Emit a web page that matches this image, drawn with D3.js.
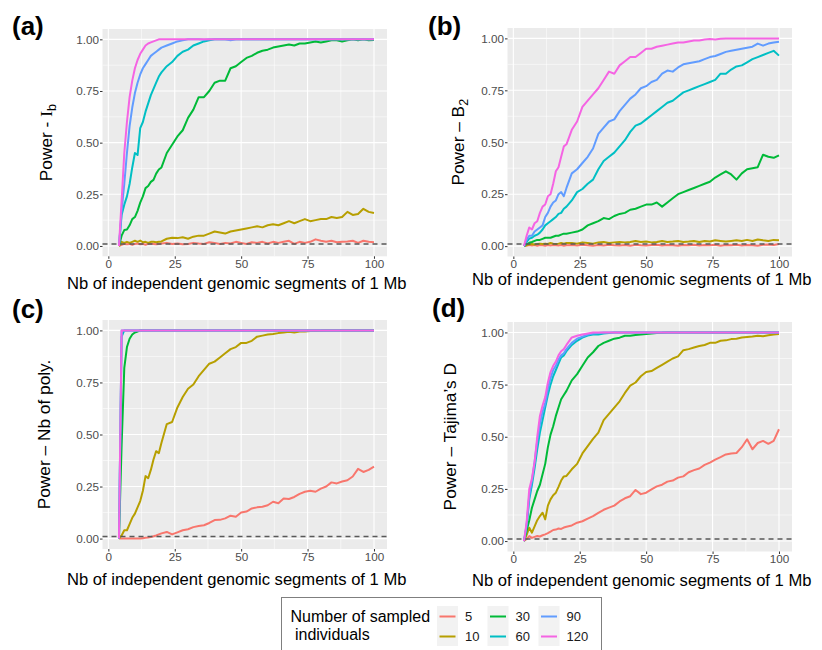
<!DOCTYPE html>
<html>
<head>
<meta charset="utf-8">
<script src="https://cdn.jsdelivr.net/npm/d3@7"></script>
<style>
  html, body { margin: 0; padding: 0; background: #ffffff; }
  svg { display: block; }
  text { font-family: "Liberation Sans", Arial, Helvetica, sans-serif; }
</style>
</head>
<body>
<div id="chart"></div>
<script>
// ---------------- DATA ----------------
const xSegments = [4,5,6,7,8,9,10,11,12,13,14,15,16,17,18,19,20,
  22,24,26,28,30,32,34,36,38,40,
  42,44,46,48,50,52,54,56,58,60,
  62,64,66,68,70,72,74,76,78,80,
  82,84,86,88,90,92,94,96,98,100];

const sampleSizes = ["5","10","30","60","90","120"];
const seriesColors = ["#F8766D","#B79F00","#00BA38","#00BFC4","#619CFF","#F564E3"];
const xTicks = [0,25,50,75,100];
const xMinorTicks = [12.5,37.5,62.5,87.5];
const yTicks = [0,0.25,0.5,0.75,1];
const yMinorTicks = [0.125,0.375,0.625,0.875];
const yTickLabels = ["0.00","0.25","0.50","0.75","1.00"];
const thresholdValue = 0.01;
const panelTags = ["(a)","(b)","(c)","(d)"];
const xTitle = "Nb of independent genomic segments of 1 Mb";
const legendTitle = ["Number of sampled", " individuals"];

// (a) Power - Ib
const ib5 = [0,0.005,0.01,0.008,0.01,0.005,0.01,0.012,0.008,0.01,0.006,0.01,0.012,0.01,0.008,0.01,0.012,
  0.015,0.01,0.012,0.008,0.01,0.015,0.012,0.01,0.018,0.015,
  0.01,0.015,0.012,0.02,0.015,0.01,0.018,0.015,0.02,0.012,
  0.02,0.015,0.02,0.025,0.01,0.02,0.015,0.02,0.032,0.025,
  0.02,0.025,0.018,0.02,0.022,0.025,0.015,0.025,0.02,0.018];
const ib10 = [0,0.02,0.015,0.02,0.015,0.02,0.025,0.02,0.026,0.018,0.02,0.015,0.02,0.02,0.018,0.02,0.022,
  0.035,0.04,0.038,0.042,0.035,0.045,0.05,0.05,0.06,0.07,
  0.065,0.06,0.07,0.075,0.08,0.085,0.09,0.095,0.09,0.1,
  0.105,0.1,0.11,0.12,0.11,0.12,0.13,0.12,0.125,0.13,
  0.13,0.14,0.135,0.14,0.165,0.15,0.155,0.18,0.165,0.16];
const ib30 = [0,0.05,0.077,0.08,0.1,0.13,0.14,0.17,0.21,0.24,0.28,0.29,0.31,0.32,0.35,0.37,0.38,
  0.45,0.49,0.53,0.56,0.62,0.66,0.72,0.72,0.75,0.79,
  0.8,0.8,0.86,0.87,0.89,0.91,0.92,0.935,0.945,0.95,
  0.96,0.965,0.97,0.975,0.97,0.98,0.98,0.985,0.99,0.985,
  0.99,0.995,0.995,0.99,0.995,1,0.995,1,0.995,0.997];
const ib60 = [0,0.15,0.2,0.24,0.3,0.38,0.45,0.44,0.57,0.6,0.65,0.69,0.73,0.76,0.79,0.82,0.84,
  0.87,0.89,0.92,0.94,0.95,0.97,0.98,0.99,0.995,1,
  1,1,1,1,1,1,1,1,1,1,
  1,1,1,1,1,1,1,1,1,1,
  1,1,1,1,1,1,1,1,1,1];
const ib90 = [0,0.17,0.3,0.45,0.58,0.67,0.74,0.79,0.83,0.86,0.88,0.9,0.92,0.93,0.94,0.95,0.96,
  0.97,0.98,0.99,0.995,1,1,1,0.998,1,1,
  1,1,0.995,1,1,1,1,1,1,1,
  1,1,1,1,1,1,1,1,1,1,
  1,1,1,1,1,1,1,1,1,1];
const ib120 = [0,0.22,0.45,0.6,0.72,0.8,0.86,0.9,0.93,0.95,0.97,0.98,0.985,0.99,0.995,1,1,
  1,1,1,1,1,1,1,1,1,1,
  1,1,1,1,1,1,1,1,1,1,
  1,1,1,1,1,1,1,1,1,1,
  1,1,1,1,1,1,1,1,1,1];

// (b) Power - B2
const b2_5 = [0,0.002,0.005,0.003,0.005,0.002,0.005,0.004,0.002,0.005,0.003,0.005,0.004,0.003,0.005,0.002,0.004,
  0.005,0.003,0.006,0.004,0.002,0.005,0.003,0.006,0.004,0.003,
  0.005,0.002,0.006,0.004,0.003,0.005,0.007,0.003,0.005,0.004,
  0.002,0.005,0.004,0.006,0.003,0.005,0.004,0.006,0.002,0.005,
  0.004,0.006,0.003,0.005,0.004,0.002,0.006,0.008,0.005,0.01];
const b2_10 = [0,0.005,0.008,0.01,0.008,0.01,0.012,0.01,0.012,0.01,0.015,0.012,0.01,0.012,0.015,0.012,0.015,
  0.015,0.012,0.018,0.015,0.012,0.018,0.02,0.015,0.018,0.02,
  0.018,0.02,0.025,0.02,0.022,0.018,0.02,0.025,0.02,0.022,
  0.025,0.02,0.022,0.025,0.02,0.025,0.022,0.028,0.025,0.022,
  0.025,0.028,0.025,0.03,0.025,0.032,0.028,0.025,0.03,0.028];
const b2_30 = [0,0.01,0.016,0.02,0.025,0.03,0.03,0.035,0.04,0.04,0.04,0.045,0.05,0.05,0.055,0.06,0.06,
  0.065,0.07,0.08,0.1,0.11,0.12,0.135,0.13,0.145,0.155,
  0.16,0.175,0.18,0.19,0.2,0.2,0.21,0.19,0.21,0.23,
  0.25,0.26,0.27,0.28,0.29,0.3,0.31,0.33,0.345,0.36,
  0.345,0.32,0.35,0.37,0.375,0.38,0.44,0.43,0.425,0.437];
const b2_60 = [0,0.02,0.036,0.04,0.05,0.055,0.065,0.08,0.1,0.11,0.12,0.13,0.14,0.155,0.16,0.18,0.19,
  0.22,0.26,0.275,0.3,0.32,0.37,0.41,0.43,0.45,0.48,
  0.51,0.55,0.58,0.59,0.61,0.63,0.65,0.67,0.69,0.7,
  0.72,0.74,0.75,0.76,0.77,0.78,0.79,0.8,0.83,0.83,
  0.85,0.865,0.87,0.885,0.9,0.91,0.92,0.93,0.94,0.917];
const b2_90 = [0,0.03,0.05,0.05,0.07,0.08,0.09,0.1,0.14,0.16,0.19,0.21,0.22,0.25,0.26,0.24,0.28,
  0.35,0.37,0.4,0.43,0.47,0.54,0.57,0.6,0.61,0.65,
  0.68,0.71,0.73,0.76,0.77,0.79,0.8,0.83,0.845,0.84,
  0.86,0.875,0.88,0.885,0.89,0.9,0.91,0.915,0.925,0.935,
  0.94,0.945,0.95,0.955,0.96,0.975,0.965,0.975,0.98,0.984];
const b2_120 = [0,0.05,0.09,0.08,0.11,0.12,0.16,0.19,0.2,0.24,0.25,0.3,0.36,0.38,0.43,0.48,0.49,
  0.56,0.6,0.67,0.7,0.73,0.76,0.8,0.84,0.83,0.87,
  0.89,0.91,0.91,0.93,0.95,0.95,0.96,0.965,0.97,0.975,
  0.98,0.98,0.985,0.99,0.99,0.995,0.997,0.995,0.998,1,
  1,1,1,1,1,1,1,1,1,1];

// (c) Power - Nb of poly.
const np5 = [0,0,0,0,0,0,0,0,0,0.002,0.004,0.005,0.008,0.011,0.015,0.02,0.025,
  0.032,0.02,0.03,0.04,0.045,0.055,0.06,0.064,0.075,0.089,
  0.09,0.097,0.11,0.105,0.125,0.13,0.145,0.15,0.153,0.16,
  0.177,0.17,0.193,0.19,0.2,0.215,0.225,0.23,0.225,0.24,
  0.25,0.27,0.265,0.274,0.28,0.298,0.335,0.32,0.33,0.346];
const np10 = [0,0.015,0.04,0.04,0.07,0.1,0.12,0.15,0.18,0.23,0.3,0.29,0.33,0.38,0.42,0.41,0.46,
  0.55,0.56,0.63,0.68,0.72,0.74,0.78,0.81,0.84,0.85,
  0.87,0.89,0.91,0.92,0.94,0.94,0.95,0.97,0.975,0.98,
  0.983,0.987,0.99,0.993,0.99,0.995,0.995,0.997,0.997,0.998,
  1,1,1,1,1,1,1,1,1,1];
const np30 = [0,0.45,0.82,0.92,0.96,0.98,0.99,0.995,1,1,1,1,1,1,1,1,1,
  1,1,1,1,1,1,1,1,1,1,
  1,1,1,1,1,1,1,1,1,1,
  1,1,1,1,1,1,1,1,1,1,
  1,1,1,1,1,1,1,1,1,1];
const np60 = [0,0.97,1,1,1,1,1,1,1,1,1,1,1,1,1,1,1,
  1,1,1,1,1,1,1,1,1,1,
  1,1,1,1,1,1,1,1,1,1,
  1,1,1,1,1,1,1,1,1,1,
  1,1,1,1,1,1,1,1,1,1];
const np90 = [0,1,1,1,1,1,1,1,1,1,1,1,1,1,1,1,1,
  1,1,1,1,1,1,1,1,1,1,
  1,1,1,1,1,1,1,1,1,1,
  1,1,1,1,1,1,1,1,1,1,
  1,1,1,1,1,1,1,1,1,1];
const np120 = [0,1,1,1,1,1,1,1,1,1,1,1,1,1,1,1,1,
  1,1,1,1,1,1,1,1,1,1,
  1,1,1,1,1,1,1,1,1,1,
  1,1,1,1,1,1,1,1,1,1,
  1,1,1,1,1,1,1,1,1,1];

// (d) Power - Tajima's D
const td5 = [0,0.01,0.024,0.015,0.02,0.024,0.022,0.028,0.032,0.038,0.045,0.053,0.055,0.06,0.058,0.065,0.069,
  0.075,0.088,0.095,0.108,0.12,0.135,0.15,0.16,0.17,0.19,
  0.205,0.215,0.245,0.225,0.232,0.248,0.262,0.27,0.285,0.29,
  0.304,0.31,0.33,0.34,0.348,0.365,0.376,0.39,0.402,0.415,
  0.42,0.422,0.45,0.488,0.44,0.47,0.48,0.466,0.48,0.536];
const td10 = [0,0.03,0.064,0.04,0.07,0.1,0.12,0.136,0.104,0.17,0.2,0.22,0.232,0.26,0.29,0.31,0.312,
  0.344,0.37,0.42,0.455,0.49,0.52,0.58,0.61,0.64,0.67,
  0.71,0.745,0.76,0.79,0.81,0.815,0.83,0.845,0.86,0.875,
  0.885,0.915,0.92,0.928,0.935,0.94,0.95,0.95,0.96,0.962,
  0.968,0.97,0.976,0.978,0.98,0.984,0.982,0.986,0.99,0.992];
const td30 = [0,0.05,0.1,0.16,0.2,0.24,0.27,0.32,0.37,0.45,0.51,0.55,0.6,0.64,0.68,0.7,0.72,
  0.77,0.8,0.84,0.88,0.905,0.935,0.95,0.96,0.97,0.975,
  0.984,0.984,0.988,0.99,0.993,0.995,0.997,0.998,1,1,
  1,1,1,1,1,1,1,1,1,1,
  1,1,1,1,1,1,1,1,1,1];
const td60 = [0,0.07,0.2,0.27,0.35,0.44,0.52,0.58,0.64,0.7,0.75,0.79,0.82,0.85,0.88,0.89,0.91,
  0.94,0.96,0.975,0.985,0.99,0.99,0.995,0.997,1,1,
  1,1,1,1,1,1,1,1,1,1,
  1,1,1,1,1,1,1,1,1,1,
  1,1,1,1,1,1,1,1,1,1];
const td90 = [0,0.08,0.22,0.29,0.38,0.48,0.56,0.62,0.66,0.73,0.78,0.82,0.84,0.87,0.89,0.9,0.92,
  0.95,0.97,0.98,0.99,0.995,0.997,1,1,1,1,
  1,1,1,1,1,1,1,1,1,1,
  1,1,1,1,1,1,1,1,1,1,
  1,1,1,1,1,1,1,1,1,1];
const td120 = [0,0.09,0.25,0.3,0.38,0.5,0.6,0.65,0.69,0.76,0.81,0.84,0.86,0.89,0.91,0.92,0.94,
  0.976,0.984,0.99,0.995,1,1,1,1,1,1,
  1,1,1,1,1,1,1,1,1,1,
  1,1,1,1,1,1,1,1,1,1,
  1,1,1,1,1,1,1,1,1,1];

// ---------------- LAYOUT ----------------
const W = 822, H = 650;
const svg = d3.select("#chart").append("svg")
  .attr("width", W).attr("height", H)
  .attr("viewBox", `0 0 ${W} ${H}`);
svg.append("rect").attr("width", W).attr("height", H).attr("fill", "#ffffff");

const panels = [
  { tag: panelTags[0], series: [ib5, ib10, ib30, ib60, ib90, ib120],
    box: {l: 102.5, r: 387, t: 29, b: 256.3},
    tagPos: [12, 35], xTitleY: 288.5, yTitleX: 52,
    yTitle: [{t: "Power - "}, {t: "I", serif: true}, {t: "b", sub: true}] },
  { tag: panelTags[1], series: [b2_5, b2_10, b2_30, b2_60, b2_90, b2_120],
    box: {l: 507.5, r: 792, t: 28, b: 256.5},
    tagPos: [428, 35], xTitleY: 285, yTitleX: 464,
    yTitle: [{t: "Power \u2013 B"}, {t: "2", sub: true}] },
  { tag: panelTags[2], series: [np5, np10, np30, np60, np90, np120],
    box: {l: 102.5, r: 387, t: 320, b: 549},
    tagPos: [12, 318], xTitleY: 585, yTitleX: 50,
    yTitle: [{t: "Power \u2013 Nb of poly."}] },
  { tag: panelTags[3], series: [td5, td10, td30, td60, td90, td120],
    box: {l: 507.5, r: 792, t: 322, b: 551.5},
    tagPos: [432, 317], xTitleY: 586, yTitleX: 456,
    yTitle: [{t: "Power \u2013 Tajima\u2019s D"}] }
];

panels.forEach(p => {
  const b = p.box;
  const x = d3.scaleLinear().domain([-2.2, 104.9]).range([b.l, b.r]);
  const y = d3.scaleLinear().domain([-0.05, 1.05]).range([b.b, b.t]);
  const g = svg.append("g");

  // background
  g.append("rect").attr("x", b.l).attr("y", b.t)
    .attr("width", b.r - b.l).attr("height", b.b - b.t).attr("fill", "#EBEBEB");

  // minor grid
  g.selectAll(".vminor").data(xMinorTicks).enter().append("line")
    .attr("x1", d => x(d)).attr("x2", d => x(d)).attr("y1", b.t).attr("y2", b.b)
    .attr("stroke", "#ffffff").attr("stroke-width", 0.55);
  g.selectAll(".hminor").data(yMinorTicks).enter().append("line")
    .attr("y1", d => y(d)).attr("y2", d => y(d)).attr("x1", b.l).attr("x2", b.r)
    .attr("stroke", "#ffffff").attr("stroke-width", 0.55);
  // major grid
  g.selectAll(".vmajor").data(xTicks).enter().append("line")
    .attr("x1", d => x(d)).attr("x2", d => x(d)).attr("y1", b.t).attr("y2", b.b)
    .attr("stroke", "#ffffff").attr("stroke-width", 1.1);
  g.selectAll(".hmajor").data(yTicks).enter().append("line")
    .attr("y1", d => y(d)).attr("y2", d => y(d)).attr("x1", b.l).attr("x2", b.r)
    .attr("stroke", "#ffffff").attr("stroke-width", 1.1);

  // series lines
  const line = d3.line().x((d, i) => x(xSegments[i])).y(d => y(d));
  p.series.forEach((s, k) => {
    g.append("path").datum(s)
      .attr("d", line)
      .attr("fill", "none")
      .attr("stroke", seriesColors[k])
      .attr("stroke-width", 2)
      .attr("stroke-linejoin", "round")
      .attr("stroke-linecap", "butt");
  });

  // threshold dashed line
  g.append("line")
    .attr("x1", b.l).attr("x2", b.r)
    .attr("y1", y(thresholdValue)).attr("y2", y(thresholdValue))
    .attr("stroke", "#595959").attr("stroke-width", 1.5)
    .attr("stroke-dasharray", "5,4");

  // axes
  const xAxis = d3.axisBottom(x).tickValues(xTicks).tickSize(2.5).tickPadding(0.8)
    .tickFormat(d3.format("d"));
  const gx = g.append("g").attr("transform", `translate(0,${b.b})`).call(xAxis);
  const yAxis = d3.axisLeft(y).tickValues(yTicks).tickSize(2.5).tickPadding(0.9)
    .tickFormat((d, i) => yTickLabels[i]);
  const gy = g.append("g").attr("transform", `translate(${b.l},0)`).call(yAxis);
  [gx, gy].forEach(ax => {
    ax.select(".domain").remove();
    ax.selectAll(".tick line").attr("stroke", "#333333").attr("stroke-width", 1);
    ax.selectAll(".tick text")
      .attr("fill", "#4D4D4D")
      .style("font-size", "11.7px")
      .style("font-family", "'Liberation Sans', Arial, sans-serif");
  });

  // x title
  g.append("text")
    .attr("x", (b.l + b.r) / 2 - 8).attr("y", p.xTitleY)
    .attr("text-anchor", "middle")
    .style("font-size", "16.6px").attr("fill", "#000")
    .text(xTitle);

  // y title
  const yt = g.append("text")
    .attr("transform", `translate(${p.yTitleX},${(b.t + b.b) / 2}) rotate(-90)`)
    .attr("text-anchor", "middle")
    .style("font-size", "17.3px").attr("fill", "#000");
  p.yTitle.forEach(part => {
    const ts = yt.append("tspan").text(part.t);
    if (part.serif) ts.style("font-family", "'Liberation Serif', 'DejaVu Serif', serif");
    if (part.sub) ts.attr("dy", "0.3em").style("font-size", "12.5px");
  });

  // panel tag
  g.append("text")
    .attr("x", p.tagPos[0]).attr("y", p.tagPos[1])
    .style("font-size", "26px").style("font-weight", "bold").attr("fill", "#000")
    .text(p.tag);
});

// ---------------- LEGEND ----------------
const lg = svg.append("g");
lg.append("rect").attr("x", 281.5).attr("y", 597.5).attr("width", 320).attr("height", 70)
  .attr("fill", "#ffffff").attr("stroke", "#7f7f7f").attr("stroke-width", 1);
lg.append("text").attr("x", 290.5).attr("y", 622)
  .style("font-size", "16px").attr("fill", "#000").text(legendTitle[0]);
lg.append("text").attr("x", 290.5).attr("y", 640).attr("xml:space", "preserve")
  .style("white-space", "pre")
  .style("font-size", "16px").attr("fill", "#000").text(legendTitle[1]);

const keyCols = [437, 487.5, 538.5];
const keyRows = [606, 626];
sampleSizes.forEach((lab, i) => {
  const col = Math.floor(i / 2), row = i % 2;
  const kx = keyCols[col], ky = keyRows[row];
  lg.append("rect").attr("x", kx).attr("y", ky).attr("width", 21).attr("height", 20)
    .attr("fill", "#F2F2F2");
  lg.append("line").attr("x1", kx + 2.5).attr("x2", kx + 18.5)
    .attr("y1", ky + 10.5).attr("y2", ky + 10.5)
    .attr("stroke", seriesColors[i]).attr("stroke-width", 2);
  lg.append("text").attr("x", kx + 28).attr("y", ky + 15)
    .style("font-size", "13px").attr("fill", "#1a1a1a").text(lab);
});
</script>
</body>
</html>
